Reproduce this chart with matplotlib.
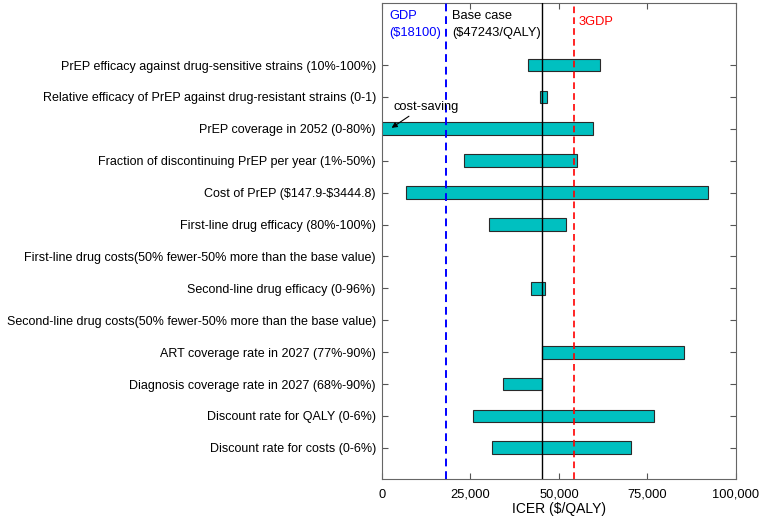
import numpy as np
import matplotlib.pyplot as plt
from matplotlib.ticker import FuncFormatter

plt.rcParams['font.family'] = ['Liberation Sans', 'DejaVu Sans']
plt.rcParams['font.size'] = 9.3
plt.rcParams['text.parse_math'] = False

params = [
    "PrEP efficacy against drug-sensitive strains (10%-100%)",
    "Relative efficacy of PrEP against drug-resistant strains (0-1)",
    "PrEP coverage in 2052 (0-80%)",
    "Fraction of discontinuing PrEP per year (1%-50%)",
    "Cost of PrEP ($147.9-$3444.8)",
    "First-line drug efficacy (80%-100%)",
    "First-line drug costs(50% fewer-50% more than the base value)",
    "Second-line drug efficacy (0-96%)",
    "Second-line drug costs(50% fewer-50% more than the base value)",
    "ART coverage rate in 2027 (77%-90%)",
    "Diagnosis coverage rate in 2027 (68%-90%)",
    "Discount rate for QALY (0-6%)",
    "Discount rate for costs (0-6%)",
]
low = [41300, 44600, -5000, 23100, 6900, 30300, 45300, 42150, 45300, 45300, 34100, 25650, 31000]
high = [61700, 46750, 59750, 55200, 92150, 52100, 45300, 46100, 45300, 85350, 45300, 76900, 70300]

base = 45300
gdp = 18100
gdp3 = 3 * gdp

fig = plt.figure(figsize=(7.61, 5.21), dpi=100)
ax = fig.add_axes([0.502, 0.081, 0.465, 0.913])

ypos = np.arange(len(params))
low = np.array(low)
high = np.array(high)
w = high - low
ax.barh(ypos[w > 0], w[w > 0], left=low[w > 0], height=0.4,
        color='#00C0C0', edgecolor='#2a2a2a', linewidth=0.8, zorder=2)

ax.axvline(base, color='black', linewidth=1.0, zorder=3)
ax.axvline(gdp, color='blue', linestyle='--', linewidth=1.4, dashes=(4, 2.5), zorder=3)
ax.axvline(gdp3, color='red', linestyle='--', linewidth=1.2, dashes=(4, 2.5), zorder=3)

ax.text(2100, -1.27, "GDP\n($18100)", color='blue', va='center', ha='left', linespacing=1.45)
ax.text(19900, -1.27, "Base case\n($47243/QALY)", color='black', va='center', ha='left', linespacing=1.45)
ax.text(55600, -1.34, "3GDP", color='red', va='center', ha='left')

ax.annotate("cost-saving", xy=(2700, 1.97), xytext=(3250, 1.33),
            va='center', ha='left',
            arrowprops=dict(arrowstyle='-|>', color='black', lw=0.8,
                            shrinkA=0, shrinkB=0, mutation_scale=8,
                            relpos=(0.3, 0.0)))

ax.set_xlim(0, 100000)
ax.set_ylim(12.97, -1.94)
ax.set_xticks([0, 25000, 50000, 75000, 100000])
ax.xaxis.set_major_formatter(FuncFormatter(lambda v, p: f"{int(v):,}"))
ax.set_yticks(ypos)
ax.set_yticklabels(params, fontsize=9.0)
ax.tick_params(direction='in', top=True, right=True, length=4, width=0.8, color='#555555')
ax.tick_params(axis='x', pad=7)
ax.tick_params(axis='y', pad=4.5)
ax.set_xlabel("ICER ($/QALY)", fontsize=10, labelpad=1)
for s in ax.spines.values():
    s.set_color('#666666')
    s.set_linewidth(0.8)

fig.savefig("out.png", dpi=100)
